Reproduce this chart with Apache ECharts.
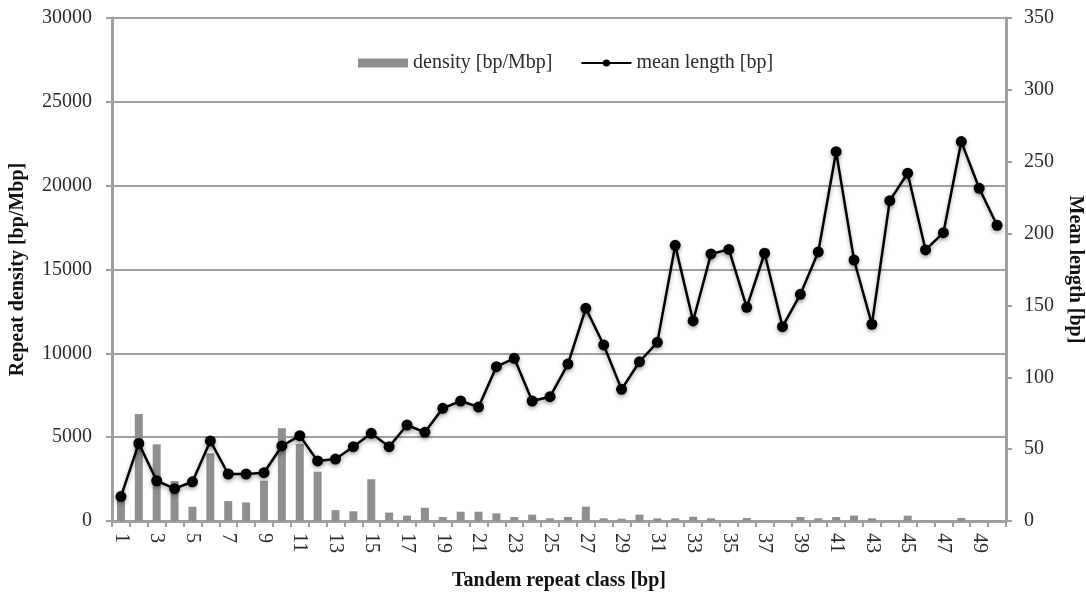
<!DOCTYPE html>
<html>
<head>
<meta charset="utf-8">
<script src="https://cdn.jsdelivr.net/npm/echarts@6/dist/echarts.min.js"></script>
<style>
  html, body { margin: 0; padding: 0; background: #ffffff; }
  #chart { width: 1086px; height: 592px; }
</style>
</head>
<body>
<div id="chart"></div>
<script>
// Tandem repeat classes (repeat unit length in bp)
const categories = [
  '1','2','3','4','5','6','7','8','9','10',
  '11','12','13','14','15','16','17','18','19','20',
  '21','22','23','24','25','26','27','28','29','30',
  '31','32','33','34','35','36','37','38','39','40',
  '41','42','43','44','45','46','47','48','49','50'
];

// Repeat density per class [bp/Mbp]
const densityValues = [
  1500, 6380, 4570, 2380, 850, 4040, 1190, 1110, 2400, 5530,
  4600, 2940, 650, 580, 2490, 500, 320, 790, 240, 555,
  555, 460, 240, 380, 160, 240, 855, 160, 140, 380,
  160, 160, 250, 160, 30, 180, 30, 30, 240, 160,
  240, 320, 160, 30, 320, 30, 30, 180, 30, 30
];

// Mean repeat length per class [bp]
const meanLengthValues = [
  17, 54, 28, 22.5, 27.3, 55.7, 32.7, 32.7, 33.6, 52.2,
  59.4, 41.8, 43.1, 51.7, 61, 51.7, 66.8, 61.7, 78.4, 83.5,
  79.3, 107.4, 113.2, 83.5, 86.5, 109.2, 148, 122.5, 91.6, 110.8,
  124.3, 191.8, 139.2, 185.8, 189, 148.7, 186.3, 135.2, 157.7, 187.2,
  257, 181.6, 136.9, 222.9, 242, 188.6, 200.6, 264, 231.5, 205.8
];

const seriesNames = ['density [bp/Mbp]', 'mean length [bp]'];
const axisTitles = {
  x: 'Tandem repeat class [bp]',
  left: 'Repeat density [bp/Mbp]',
  right: 'Mean length [bp]'
};

const FONT = '"Liberation Serif", "Times New Roman", serif';
const AXIS_GREY = '#a0a0a0';
const TEXT = '#2b2b2b';

// plain integers on both value axes (no thousands separator)
const plainNumber = (v) => String(v);

const chart = echarts.init(document.getElementById('chart'), null, { renderer: 'canvas' });

chart.setOption({
  animation: false,
  backgroundColor: '#ffffff',
  textStyle: { fontFamily: FONT },
  grid: {
    left: 112, right: 80, top: 18, bottom: 71,
    containLabel: false,
    outerBoundsMode: 'none'
  },
  legend: {
    left: 353,
    top: 48,
    itemWidth: 50,
    itemHeight: 9,
    itemGap: 28,
    textStyle: { fontFamily: FONT, fontSize: 20, color: TEXT },
    data: [
      { name: seriesNames[0], icon: 'rect' },
      { name: seriesNames[1] }
    ]
  },
  xAxis: {
    type: 'category',
    data: categories,
    boundaryGap: true,
    name: axisTitles.x,
    nameLocation: 'middle',
    nameGap: 50,
    nameTextStyle: { fontFamily: FONT, fontSize: 20, fontWeight: 'bold', color: '#111' },
    axisLine: { lineStyle: { color: AXIS_GREY, width: 3 } },
    axisTick: { show: true, interval: 0, length: 6, lineStyle: { color: AXIS_GREY, width: 2 } },
    axisLabel: {
      interval: 1,
      rotate: -90,
      margin: 12,
      fontFamily: FONT,
      fontSize: 20,
      color: TEXT
    },
    splitLine: { show: false }
  },
  yAxis: [
    {
      type: 'value',
      position: 'left',
      min: 0,
      max: 30000,
      interval: 5000,
      name: axisTitles.left,
      nameLocation: 'middle',
      nameRotate: 90,
      nameGap: 84,
      nameTextStyle: { fontFamily: FONT, fontSize: 20, fontWeight: 'bold', color: '#111' },
      axisLine: { show: true, lineStyle: { color: AXIS_GREY, width: 3 } },
      axisTick: { show: true, length: 6, lineStyle: { color: AXIS_GREY, width: 2 } },
      axisLabel: { margin: 20, fontFamily: FONT, fontSize: 20, color: TEXT, formatter: plainNumber },
      splitLine: { show: true, lineStyle: { color: AXIS_GREY, width: 2 } }
    },
    {
      type: 'value',
      position: 'right',
      min: 0,
      max: 350,
      interval: 50,
      name: axisTitles.right,
      nameLocation: 'middle',
      nameRotate: -90,
      nameGap: 57,
      nameTextStyle: { fontFamily: FONT, fontSize: 20, fontWeight: 'bold', color: '#111' },
      axisLine: { show: true, lineStyle: { color: AXIS_GREY, width: 3 } },
      axisTick: { show: true, length: 6, lineStyle: { color: AXIS_GREY, width: 2 } },
      axisLabel: { margin: 18, fontFamily: FONT, fontSize: 20, color: TEXT, formatter: plainNumber },
      splitLine: { show: false }
    }
  ],
  series: [
    {
      name: seriesNames[0],
      type: 'bar',
      yAxisIndex: 0,
      data: densityValues,
      barWidth: 8,
      itemStyle: { color: '#8f8f8f' },
      z: 2
    },
    {
      name: seriesNames[1],
      type: 'line',
      yAxisIndex: 1,
      data: meanLengthValues,
      symbol: 'circle',
      symbolSize: 11,
      showSymbol: true,
      lineStyle: {
        color: '#000000',
        width: 2.5,
        shadowColor: 'rgba(0,0,0,0.35)',
        shadowBlur: 4,
        shadowOffsetY: 2
      },
      itemStyle: {
        color: '#000000',
        borderWidth: 0,
        shadowColor: 'rgba(0,0,0,0.35)',
        shadowBlur: 4,
        shadowOffsetY: 2
      },
      z: 5
    }
  ]
});
</script>
</body>
</html>
